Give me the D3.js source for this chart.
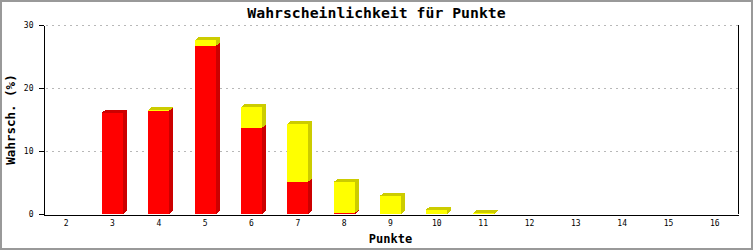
<!DOCTYPE html>
<html>
<head>
<meta charset="utf-8">
<script src="https://cdn.jsdelivr.net/npm/d3@7"></script>
<style>
	body { margin: 0; background: #fff; }
	svg text { font-family: "DejaVu Sans Mono", "Liberation Mono", monospace; }
</style>
</head>
<body>
<svg id="chart" width="753" height="250"></svg>
<script>
// Punkte 2..16, Anteile in Prozent
var punkte = [2, 3, 4, 5, 6, 7, 8, 9, 10, 11, 12, 13, 14, 15, 16];
var rot = [0, 16.1, 16.4, 26.7, 13.7, 5.1, 0.2, 0, 0, 0, 0, 0, 0, 0, 0];
var gelb = [0, 0, 0.1, 0.9, 3.3, 9.2, 4.9, 2.9, 0.7, 0.15, 0, 0, 0, 0, 0];
var yTicks = [0, 10, 20, 30];

var series = [
	{name: 'rot', values: rot, front: '#ff0000', shade: '#cc0000'},
	{name: 'gelb', values: gelb, front: '#ffff00', shade: '#cccc00'}
];

var W = 753, H = 250;
var margin = {top: 25, right: 15, bottom: 36, left: 43};
var depthX = 4, depthY = 3;

var svg = d3.select('#chart');

svg.append('rect')
	.attr('x', 1).attr('y', 1)
	.attr('width', W - 2).attr('height', H - 2)
	.attr('fill', '#fff')
	.attr('stroke', '#999')
	.attr('stroke-width', 2);

var x = d3.scaleBand()
	.domain(punkte)
	.range([margin.left, W - margin.right])
	.padding(0);

var y = d3.scaleLinear()
	.domain([0, 30])
	.range([H - margin.bottom, margin.top]);

var barW = Math.round(x.bandwidth() * 0.45);

//gridlines
svg.append('g').selectAll('line')
	.data(yTicks.filter(function(d){return d > 0;}))
	.enter().append('line')
	.attr('x1', margin.left + 3)
	.attr('x2', W - margin.right)
	.attr('y1', function(d){return Math.round(y(d)) + 0.5;})
	.attr('y2', function(d){return Math.round(y(d)) + 0.5;})
	.attr('stroke', '#b8b8b8')
	.attr('stroke-dasharray', '2,4')
	.attr('shape-rendering', 'crispEdges');

//stacked 3d bars
var stack = d3.stack().keys(['rot', 'gelb']);
var table = punkte.map(function(p, i){return {p: p, rot: rot[i], gelb: gelb[i]};});
var layers = stack(table);

var bars = svg.append('g').attr('shape-rendering', 'crispEdges');
punkte.forEach(function(p, i) {
	var x0 = Math.round(x(p) + (x.bandwidth() - barW) / 2);
	var x1 = x0 + barW;
	var topLayer = -1;
	layers.forEach(function(layer, k) {
		var seg = layer[i];
		if (seg[1] - seg[0] <= 0) return;
		topLayer = k;
		var yb = y(seg[0]), yt = y(seg[1]);
		bars.append('rect')
			.attr('x', x0).attr('y', yt)
			.attr('width', barW).attr('height', yb - yt)
			.attr('fill', series[k].front);
		bars.append('path')
			.attr('d', 'M' + x1 + ',' + yb + 'L' + (x1 + depthX) + ',' + (yb - depthY) +
				'L' + (x1 + depthX) + ',' + (yt - depthY) + 'L' + x1 + ',' + yt + 'Z')
			.attr('fill', series[k].shade);
	});
	if (topLayer >= 0) {
		var yt = y(layers[topLayer][i][1]);
		bars.append('path')
			.attr('d', 'M' + x0 + ',' + yt + 'L' + (x0 + depthX) + ',' + (yt - depthY) +
				'L' + (x1 + depthX) + ',' + (yt - depthY) + 'L' + x1 + ',' + yt + 'Z')
			.attr('fill', series[topLayer].shade);
	}
});

//axes
var yAxis = svg.append('g')
	.attr('transform', 'translate(' + (margin.left + 0.5) + ',0)')
	.call(d3.axisLeft(y).tickValues(yTicks).tickSize(5).tickSizeOuter(0).tickPadding(5));

var xAxis = svg.append('g')
	.attr('transform', 'translate(0,' + (Math.round(y(0)) + 0.5) + ')')
	.call(d3.axisBottom(x).tickSize(0).tickSizeOuter(0).tickPadding(6));

[yAxis, xAxis].forEach(function(a) {
	a.selectAll('path, line').attr('stroke', '#000').attr('shape-rendering', 'crispEdges');
	a.selectAll('text')
		.attr('fill', '#000')
		.style('font-family', '"DejaVu Sans Mono", monospace')
		.style('font-size', '8px');
});

svg.append('line')
	.attr('x1', W - margin.right + 0.5).attr('x2', W - margin.right + 0.5)
	.attr('y1', margin.top).attr('y2', y(0))
	.attr('stroke', '#000')
	.attr('shape-rendering', 'crispEdges');

//titles
svg.append('text')
	.attr('x', W / 2).attr('y', 18)
	.attr('text-anchor', 'middle')
	.style('font-size', '14.8px').style('font-weight', 'bold')
	.text('Wahrscheinlichkeit für Punkte');

svg.append('text')
	.attr('x', (margin.left + W - margin.right) / 2).attr('y', 243)
	.attr('text-anchor', 'middle')
	.style('font-size', '12px').style('font-weight', 'bold')
	.text('Punkte');

svg.append('text')
	.attr('transform', 'translate(15,' + ((margin.top + y(0)) / 2) + ') rotate(-90)')
	.attr('text-anchor', 'middle')
	.style('font-size', '12.5px').style('font-weight', 'bold')
	.text('Wahrsch. (%)');
</script>
</body>
</html>
